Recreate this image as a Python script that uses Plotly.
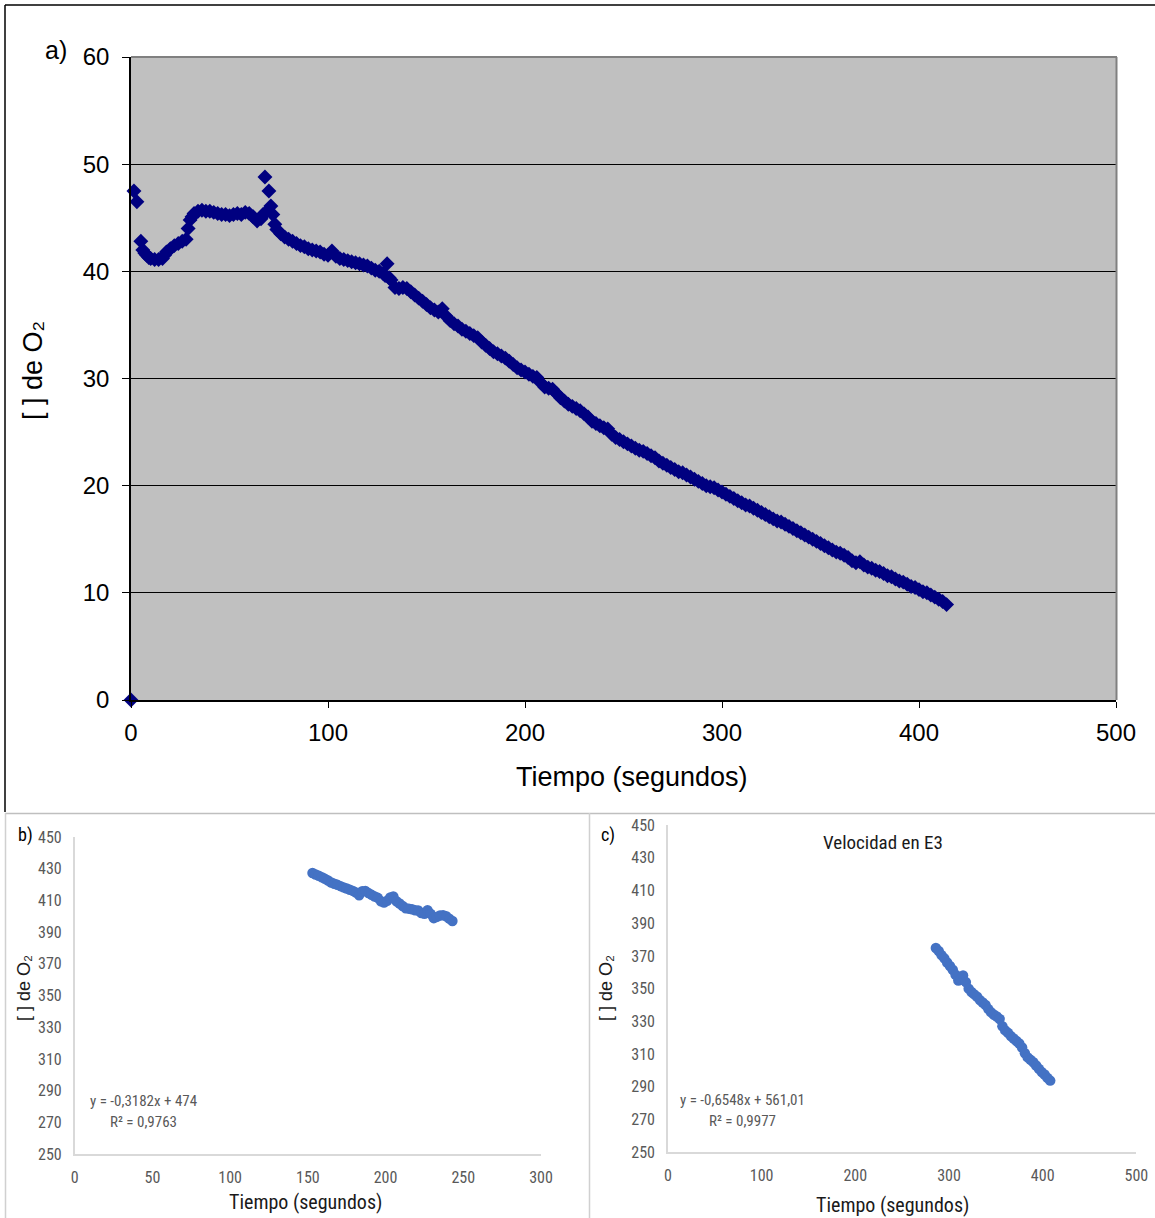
import plotly.graph_objects as go

# ---------------- Data ----------------
# Panel a) : O2 concentration vs time (s)
time_a = [0, 1.5, 3, 5, 6, 7, 8, 9, 10, 12, 14, 16, 17, 18, 20, 22, 24, 26, 28, 29,
          30, 31, 32, 34, 36, 38, 40, 42, 44, 46, 48, 50, 52, 54, 56, 58, 60, 62, 64, 66,
          67, 68, 69, 70, 71, 72, 73, 74, 76, 78, 80, 82, 84, 86, 88, 90, 92, 94, 96, 98,
          100, 102, 104, 106, 108, 110, 112, 114, 116, 118, 120, 122, 124, 126, 128, 129, 130, 131, 132, 134,
          136, 138, 140, 142, 144, 146, 148, 150, 152, 154, 156, 158, 160, 162, 164, 166, 168, 170, 172, 174,
          176, 178, 180, 182, 184, 186, 188, 190, 192, 194, 196, 198, 200, 202, 204, 206, 208, 210, 212, 214,
          216, 218, 220, 222, 224, 226, 228, 230, 232, 234, 236, 238, 240, 242, 244, 246, 248, 250, 252, 254,
          256, 258, 260, 262, 264, 266, 268, 270, 272, 274, 276, 278, 280, 282, 284, 286, 288, 290, 292, 294,
          296, 298, 300, 302, 304, 306, 308, 310, 312, 314, 316, 318, 320, 322, 324, 326, 328, 330, 332, 334,
          336, 338, 340, 342, 344, 346, 348, 350, 352, 354, 356, 358, 360, 362, 364, 366, 368, 370, 372, 374,
          376, 378, 380, 382, 384, 386, 388, 390, 392, 394, 396, 398, 400, 402, 404, 406, 408, 410, 412, 414]
o2_a = [0.0, 47.5, 46.5, 42.8, 42.0, 41.7, 41.5, 41.3, 41.2, 41.1, 41.1, 41.2, 41.5, 41.8, 42.1, 42.4, 42.6, 42.8, 43.0, 44.0,
        44.8, 45.1, 45.4, 45.6, 45.7, 45.6, 45.6, 45.5, 45.4, 45.3, 45.3, 45.2, 45.3, 45.4, 45.3, 45.5, 45.4, 45.1, 44.7, 44.9,
        45.3, 48.8, 45.6, 47.5, 46.1, 45.3, 44.4, 43.9, 43.5, 43.2, 43.0, 42.8, 42.6, 42.4, 42.3, 42.1, 42.0, 41.9, 41.8, 41.6,
        41.5, 41.9, 41.4, 41.2, 41.1, 41.0, 40.9, 40.8, 40.7, 40.6, 40.5, 40.3, 40.1, 40.0, 39.8, 39.6, 40.7, 39.4, 39.2, 38.5,
        38.4, 38.5, 38.4, 38.1, 37.8, 37.5, 37.2, 36.9, 36.6, 36.4, 36.2, 36.5, 35.8, 35.4, 35.1, 34.9, 34.6, 34.4, 34.2, 34.0,
        33.8, 33.4, 33.1, 32.8, 32.5, 32.3, 32.1, 31.9, 31.6, 31.3, 31.0, 30.8, 30.6, 30.4, 30.2, 30.1, 29.6, 29.2, 29.1, 29.0,
        28.6, 28.2, 27.9, 27.6, 27.4, 27.2, 27.0, 26.7, 26.4, 26.0, 25.8, 25.6, 25.4, 25.3, 24.8, 24.5, 24.3, 24.1, 23.9, 23.7,
        23.5, 23.3, 23.2, 23.0, 22.8, 22.6, 22.3, 22.1, 21.9, 21.7, 21.5, 21.3, 21.2, 21.0, 20.8, 20.6, 20.4, 20.2, 20.0, 19.9,
        19.8, 19.6, 19.4, 19.2, 19.0, 18.8, 18.6, 18.4, 18.2, 18.1, 17.9, 17.7, 17.5, 17.3, 17.1, 16.9, 16.7, 16.6, 16.4, 16.2,
        16.0, 15.8, 15.6, 15.4, 15.2, 15.0, 14.8, 14.6, 14.4, 14.2, 14.0, 13.8, 13.7, 13.5, 13.3, 13.0, 12.8, 12.9, 12.6, 12.4,
        12.3, 12.1, 12.0, 11.8, 11.6, 11.5, 11.3, 11.1, 11.0, 10.8, 10.6, 10.5, 10.3, 10.1, 10.0, 9.8, 9.6, 9.4, 9.2, 8.9]

# Panel b)
time_b = [153, 155, 157, 159, 161, 163, 165, 167, 169, 171, 173, 175, 177, 179, 181, 183, 185, 187, 189, 191,
          193, 195, 197, 199, 201, 203, 205, 207, 209, 211, 213, 215, 217, 219, 221, 223, 225, 227, 229, 231,
          233, 235, 237, 239, 241, 243]
o2_b = [427.3, 426.3, 425.5, 424.6, 423.6, 422.6, 421.3, 420.5, 419.8, 419.0, 418.2, 417.5, 416.7, 416.0, 415.0, 413.2, 415.8, 416.0, 414.6, 413.5,
        412.5, 411.6, 409.5, 408.6, 409.8, 411.8, 412.5, 409.5, 408.0, 406.5, 405.0, 404.8, 404.4, 403.8, 403.6, 402.0, 401.5, 403.8, 401.5, 398.8,
        399.6, 400.5, 400.7, 400.0, 398.5, 397.0]

# Panel c)
time_c = [286, 289, 292, 295, 298, 301, 304, 307, 310, 312, 315, 318, 321, 324, 327, 330, 333, 336, 339, 342,
          345, 348, 351, 354, 357, 360, 363, 366, 369, 372, 375, 378, 381, 384, 387, 390, 393, 396, 399, 402,
          405, 408]
o2_c = [374.8, 373.0, 370.5, 368.5, 366.0, 363.8, 361.5, 358.5, 355.0, 355.5, 358.0, 354.0, 350.0, 348.0, 346.5, 345.0, 343.0, 341.5, 340.0, 337.5,
        335.5, 334.0, 333.0, 331.5, 327.0, 324.5, 323.0, 321.0, 319.5, 318.0, 316.5, 314.0, 310.5, 308.0, 306.5, 305.0, 303.0, 301.0, 299.0, 297.5,
        295.5, 293.8]

ticks_a_x = [0, 100, 200, 300, 400, 500]
ticks_a_y = [0, 10, 20, 30, 40, 50, 60]
ticks_b_x = [0, 50, 100, 150, 200, 250, 300]
ticks_bc_y = [250, 270, 290, 310, 330, 350, 370, 390, 410, 430, 450]
ticks_c_x = [0, 100, 200, 300, 400, 500]

eq_b = ["y = -0,3182x + 474", "R² = 0,9763"]
eq_c = ["y = -0,6548x + 561,01", "R² = 0,9977"]

# ---------------- Layout helpers ----------------
W, H = 1155, 1218


def fx(px):
    return px / W


def fy(py):
    return 1 - py / H


ARIAL = "Liberation Sans, Arial, sans-serif"
NARROW = "Liberation Sans Narrow, Arial Narrow, Roboto Condensed, DejaVu Sans Condensed, sans-serif"
GRAY_TXT = "#595959"
AX_GRAY = "#D9D9D9"

fig = go.Figure()

fig.add_trace(go.Scatter(x=time_a, y=o2_a, mode="markers", xaxis="x", yaxis="y",
                         marker=dict(symbol="diamond", size=11.5, color="#000080",
                                     line=dict(width=0)),
                         cliponaxis=False, showlegend=False))
fig.add_trace(go.Scatter(x=time_b, y=o2_b, mode="markers", xaxis="x2", yaxis="y2",
                         marker=dict(symbol="circle", size=10.5, color="#4472C4",
                                     line=dict(width=0)),
                         showlegend=False))
fig.add_trace(go.Scatter(x=time_c, y=o2_c, mode="markers", xaxis="x3", yaxis="y3",
                         marker=dict(symbol="circle", size=10.5, color="#4472C4",
                                     line=dict(width=0)),
                         showlegend=False))

common_off = dict(automargin=False)

fig.update_layout(
    template="none",
    width=W, height=H,
    margin=dict(l=0, r=0, t=0, b=0, pad=0, autoexpand=False),
    paper_bgcolor="white",
    plot_bgcolor="rgba(0,0,0,0)",
    showlegend=False,
    xaxis=dict(domain=[fx(131), fx(1116)], range=[0, 500], tickvals=ticks_a_x,
               showgrid=False, zeroline=False, showline=True, linecolor="black", linewidth=1.5,
               ticks="outside", ticklen=6, tickcolor="black", tickwidth=1, ticklabelstandoff=4,
               tickfont=dict(family=ARIAL, size=24, color="black"), anchor="y", **common_off),
    yaxis=dict(domain=[fy(700), fy(57)], range=[0, 60], tickvals=ticks_a_y,
               showgrid=True, gridcolor="black", gridwidth=1.2, zeroline=False,
               showline=True, linecolor="black", linewidth=1.5,
               ticks="outside", ticklen=7, tickcolor="black", tickwidth=1, ticklabelstandoff=8,
               tickfont=dict(family=ARIAL, size=24, color="black"), anchor="x", **common_off),
    xaxis2=dict(domain=[fx(74.7), fx(541)], range=[0, 300], tickvals=ticks_b_x,
                showgrid=False, zeroline=False, showline=True, linecolor=AX_GRAY, linewidth=1.5,
                ticks="", ticklabelstandoff=8,
                tickfont=dict(family=NARROW, size=16, color=GRAY_TXT), anchor="y2", **common_off),
    yaxis2=dict(domain=[fy(1154), fy(837)], range=[250, 450], tickvals=ticks_bc_y,
                showgrid=False, zeroline=False, showline=True, linecolor=AX_GRAY, linewidth=1.5,
                ticks="", ticklabelstandoff=8,
                tickfont=dict(family=NARROW, size=16, color=GRAY_TXT), anchor="x2", **common_off),
    xaxis3=dict(domain=[fx(667.9), fx(1136.4)], range=[0, 500], tickvals=ticks_c_x,
                showgrid=False, zeroline=False, showline=True, linecolor=AX_GRAY, linewidth=1.5,
                ticks="", ticklabelstandoff=8,
                tickfont=dict(family=NARROW, size=16, color=GRAY_TXT), anchor="y3", **common_off),
    yaxis3=dict(domain=[fy(1152.3), fy(825)], range=[250, 450], tickvals=ticks_bc_y,
                showgrid=False, zeroline=False, showline=True, linecolor=AX_GRAY, linewidth=1.5,
                ticks="", ticklabelstandoff=8,
                tickfont=dict(family=NARROW, size=16, color=GRAY_TXT), anchor="x3", **common_off),
)

shapes = [
    # gray plot background for panel a
    dict(type="rect", xref="x domain", yref="y domain", x0=0, x1=1, y0=0, y1=1,
         fillcolor="#C0C0C0", line=dict(width=0), layer="below"),
    # gray top/right border of plot area a
    dict(type="line", xref="paper", yref="paper", x0=fx(131), x1=fx(1117), y0=fy(57), y1=fy(57),
         line=dict(color="#808080", width=2)),
    dict(type="line", xref="paper", yref="paper", x0=fx(1116.5), x1=fx(1116.5), y0=fy(57), y1=fy(700),
         line=dict(color="#808080", width=2)),
    # outer frame of panel a (black)
    dict(type="line", xref="paper", yref="paper", x0=fx(5), x1=fx(5), y0=fy(5), y1=fy(812),
         line=dict(color="black", width=1.5)),
    dict(type="line", xref="paper", yref="paper", x0=fx(5), x1=fx(1155), y0=fy(5), y1=fy(5),
         line=dict(color="black", width=1.5)),
    # separators of lower panels
    dict(type="line", xref="paper", yref="paper", x0=fx(5), x1=fx(1155), y0=fy(813.5), y1=fy(813.5),
         line=dict(color="#BFBFBF", width=1.5)),
    dict(type="line", xref="paper", yref="paper", x0=fx(5.5), x1=fx(5.5), y0=fy(813), y1=fy(1218),
         line=dict(color="#D0D0D0", width=1.5)),
    dict(type="line", xref="paper", yref="paper", x0=fx(589.5), x1=fx(589.5), y0=fy(813), y1=fy(1218),
         line=dict(color="#D0D0D0", width=1.5)),
]
fig.update_layout(shapes=shapes)


def ann(text, px, py, size, family, color="black", angle=0, xanchor="center"):
    return dict(text=text, x=fx(px), y=fy(py), xref="paper", yref="paper",
                xanchor=xanchor, yanchor="middle", showarrow=False, textangle=angle,
                font=dict(family=family, size=size, color=color))


annotations = [
    ann("a)", 56, 50, 25, ARIAL),
    ann("Tiempo (segundos)", 632, 777, 27, ARIAL),
    ann("[ ] de O₂", 33, 371, 27, ARIAL, angle=-90),
    ann("b)", 25, 835, 18, NARROW),
    ann("c)", 608, 835, 18, NARROW),
    ann("Tiempo (segundos)", 305, 1202, 20, NARROW, color="#1a1a1a"),
    ann("Tiempo (segundos)", 892, 1205, 20, NARROW, color="#1a1a1a"),
    ann("[ ] de O₂", 24, 988, 18, ARIAL, color="#1a1a1a", angle=-90),
    ann("[ ] de O₂", 606, 988, 18, ARIAL, color="#1a1a1a", angle=-90),
    ann("Velocidad en E3", 883, 842, 19, NARROW, color="#1a1a1a"),
    ann(eq_b[0], 88, 1101, 15, NARROW, color=GRAY_TXT, xanchor="left"),
    ann(eq_b[1], 108, 1122, 15, NARROW, color=GRAY_TXT, xanchor="left"),
    ann(eq_c[0], 678, 1100, 15, NARROW, color=GRAY_TXT, xanchor="left"),
    ann(eq_c[1], 707, 1121, 15, NARROW, color=GRAY_TXT, xanchor="left"),
]
fig.update_layout(annotations=annotations)

fig.write_html(
    "out.html",
    config={"displayModeBar": False},
    post_script="document.body.style.margin='0px';document.body.style.padding='0px';"
                "document.body.style.overflow='hidden';",
)
